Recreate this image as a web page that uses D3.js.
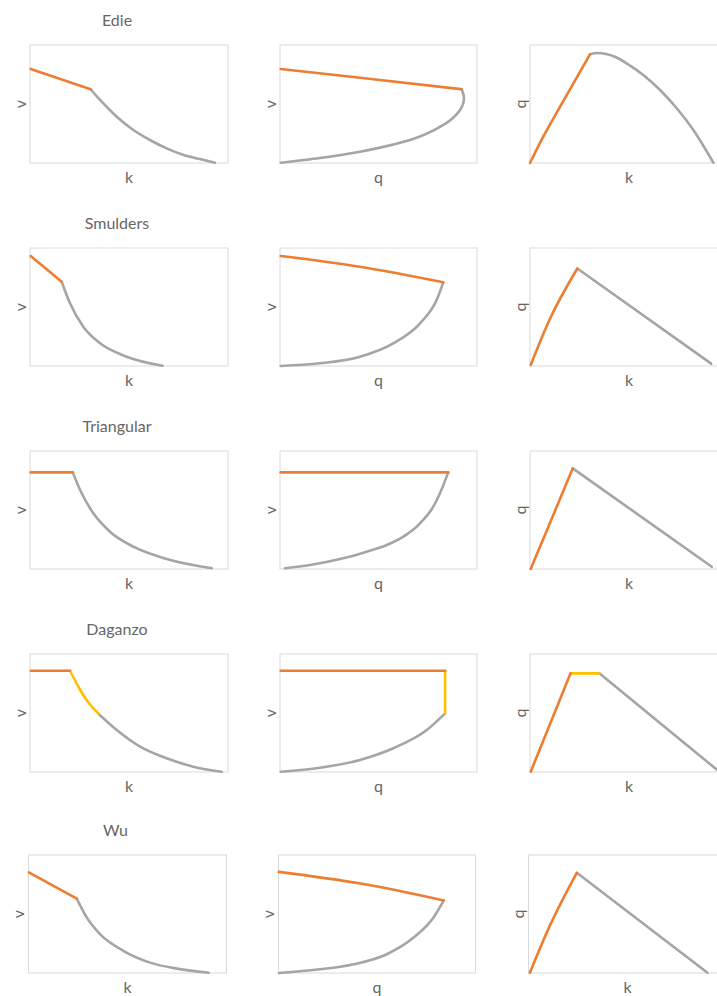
<!DOCTYPE html>
<html><head><meta charset="utf-8">
<script src="https://cdn.jsdelivr.net/npm/d3@7"></script>
<style>body{margin:0;background:#fff}</style>
</head><body><svg id="c" width="717" height="996"></svg>
<script>
// ---- data (normalized 0-100 within each panel: x across, y up) ----
const models = ["Edie", "Smulders", "Triangular", "Daganzo", "Wu"];
const panelAxes = [["k", "v"], ["q", "v"], ["k", "q"]];

// Edie
const edieVkFree = [[0.35,79.7],[30.6,62.5]];
const edieVkCong = [[30.6,62.5],[35.4,53.4],[43.8,39.2],[52.2,28],[60.6,19.5],[69,12.4],[77.3,7],[85.9,3.3],[93.4,0.25]];
const edieVqFree = [[0.35,79.7],[40.6,72.3],[92.2,62.5]];
const edieVqCong = [[92.2,62.5],[93.4,54.8],[91.4,44.9],[82.9,32.2],[66,19.5],[49.1,12.4],[40.6,9.6],[20.3,4.2],[0.35,0.25]];
const edieQkFree = [[0,0],[6.7,22.3],[15.2,47.7],[30.3,92.1]];
const edieQkCong = [[30.3,92.1],[34,93.2],[42.9,90],[48.8,84.5],[57.2,74.6],[65.7,61.9],[74.1,46.4],[82.5,28],[92.6,0.3]];

// Smulders
const smulVkFree = [[0.35,93.2],[16,71.4]];
const smulVkCong = [[16,71.4],[20.2,53.1],[26.9,33.3],[35.4,19.2],[48.8,7.9],[67,0.25]];
const smulVqFree = [[0.35,93.2],[40.6,84.1],[82.9,70.9]];
const smulVqCong = [[82.9,70.9],[79.5,55.9],[71.1,36.2],[57.5,19.2],[40.6,7.9],[20.3,2.3],[0.35,0]];
const smulQkFree = [[0.35,0.85],[10.1,40],[23.9,82.6]];
const smulQkCong = [[23.9,82.6],[91.5,2]];

// Triangular
const triVkFree = [[0.35,81.9],[21.6,81.9]];
const triVkCong = [[21.6,81.9],[25.3,67],[32,47.2],[40.4,31.6],[52.2,18.9],[69,8.5],[91.8,0.6]];
const triVqFree = [[0.35,81.9],[85.4,81.9]];
const triVqCong = [[85.4,81.9],[81.2,64.2],[77.8,52.8],[71.1,38.7],[62.6,27.4],[54.2,20.3],[44,14.7],[32.1,9.1],[15.2,3.4],[2.5,0.6]];
const triQkFree = [[0.35,0],[21.6,85.3]];
const triQkCong = [[21.6,85.3],[91.8,1.9]];

// Daganzo
const dagVkFree = [[0.35,85.8],[20.2,85.8]];
const dagVkCap  = [[20.2,85.8],[25.3,69.7],[28.6,61],[34.7,49.2]];
const dagVkCong = [[34.7,49.2],[43.8,35.6],[55.6,21.5],[69,11.6],[82.5,4.5],[96.8,0.25]];
const dagVqFree = [[0.35,85.8],[83.8,85.8]];
const dagVqCap  = [[83.8,85.8],[83.8,49.7]];
const dagVqCong = [[83.8,49.7],[74.5,35.6],[57.5,20.1],[40.6,10.2],[20.3,3.6],[0.35,0.25]];
const dagQkFree = [[0.35,0.25],[20.5,83.6]];
const dagQkCap  = [[20.5,83.6],[35,83.6]];
const dagQkCong = [[35,83.6],[95.8,0]];

// Wu
const wuVkFree = [[0.15,85.2],[24.4,63]];
const wuVkCong = [[24.4,63],[29.3,47.3],[36,33.1],[47.9,18.8],[61.4,8.8],[75,3.7],[91,0.25]];
const wuVqFree = [[0.15,85.7],[41.6,75.8],[83.9,61.5]];
const wuVqCong = [[83.9,61.5],[78.8,47.3],[68.7,30.2],[55,15.9],[38.2,7.4],[16.2,2.3],[0.15,0]];
const wuQkFree = [[0.7,0.25],[11.2,41.6],[24.4,84.9]];
const wuQkCong = [[24.4,84.9],[90.4,0.25]];

const regimeColor = {free: "#ED7D31", cap: "#FFC000", cong: "#A5A5A5"};

const rows = [
  [[["cong",edieVkCong],["free",edieVkFree]],
   [["cong",edieVqCong],["free",edieVqFree]],
   [["cong",edieQkCong],["free",edieQkFree]]],
  [[["cong",smulVkCong],["free",smulVkFree]],
   [["cong",smulVqCong],["free",smulVqFree]],
   [["cong",smulQkCong],["free",smulQkFree]]],
  [[["cong",triVkCong],["free",triVkFree]],
   [["cong",triVqCong],["free",triVqFree]],
   [["cong",triQkCong],["free",triQkFree]]],
  [[["cong",dagVkCong],["cap",dagVkCap],["free",dagVkFree]],
   [["cong",dagVqCong],["cap",dagVqCap],["free",dagVqFree]],
   [["cong",dagQkCong],["cap",dagQkCap],["free",dagQkFree]]],
  [[["cong",wuVkCong],["free",wuVkFree]],
   [["cong",wuVqCong],["free",wuVqFree]],
   [["cong",wuQkCong],["free",wuQkFree]]]
];

// ---- layout ----
const colX = [30, 280, 530];
const colW = [198, 197, 198];
const rowY = [45, 248, 451, 654, 855];
const rowDx = [0, 0, 0, 0, -1.5];
const frameH = 118;
const font = "Lato, 'Open Sans', sans-serif";
const textColor = "#666666";

const svg = d3.select("#c");

function strictlyMonotone(pts, i) {
  let up = true, down = true;
  for (let j = 1; j < pts.length; j++) {
    if (!(pts[j][i] > pts[j-1][i])) up = false;
    if (!(pts[j][i] < pts[j-1][i])) down = false;
  }
  return up || down;
}

rows.forEach((panels, r) => {
  const y0 = rowY[r];
  svg.append("text")
    .attr("x", colX[0] + rowDx[r] + colW[0] / 2 - 12)
    .attr("y", y0 - 19)
    .attr("text-anchor", "middle")
    .attr("font-family", font).attr("font-size", 16)
    .attr("fill", textColor)
    .text(models[r]);

  panels.forEach((series, c) => {
    const x0 = colX[c] + rowDx[r];
    const w = colW[c];
    const xs = d3.scaleLinear().domain([0, 100]).range([x0, x0 + w]);
    const ys = d3.scaleLinear().domain([0, 100]).range([y0 + frameH, y0]);
    const g = svg.append("g");
    g.append("rect")
      .attr("x", xs(0)).attr("y", ys(100))
      .attr("width", xs(100) - xs(0)).attr("height", ys(0) - ys(100))
      .attr("fill", "none").attr("stroke", "#D9D9D9").attr("stroke-width", 1);

    series.forEach(([reg, pts]) => {
      let curve = d3.curveLinear, data = pts;
      if (pts.length > 2) {
        if (strictlyMonotone(pts, 0)) {
          curve = d3.curveMonotoneX;
          data = pts.slice().sort((a, b) => a[0] - b[0]);
        } else if (strictlyMonotone(pts, 1)) {
          curve = d3.curveMonotoneY;
          data = pts.slice().sort((a, b) => a[1] - b[1]);
        } else {
          curve = d3.curveCatmullRom.alpha(0.5);
        }
      }
      const line = d3.line().x(d => xs(d[0])).y(d => ys(d[1])).curve(curve);
      g.append("path").attr("d", line(data))
        .attr("fill", "none")
        .attr("stroke", regimeColor[reg])
        .attr("stroke-width", 2.6)
        .attr("stroke-linecap", "round")
        .attr("stroke-linejoin", "round");
    });

    g.append("text")
      .attr("x", (xs(0) + xs(100)) / 2)
      .attr("y", ys(0) + 20)
      .attr("text-anchor", "middle")
      .attr("font-family", font).attr("font-size", 16)
      .attr("fill", textColor)
      .text(panelAxes[c][0]);
    const ly = (ys(0) + ys(100)) / 2;
    const lx = xs(0) - 10;
    g.append("text")
      .attr("transform", `translate(${lx},${ly}) rotate(-90)`)
      .attr("text-anchor", "middle")
      .attr("dy", "0.35em")
      .attr("font-family", font).attr("font-size", 16)
      .attr("fill", textColor)
      .text(panelAxes[c][1]);
  });
});
</script></body></html>
